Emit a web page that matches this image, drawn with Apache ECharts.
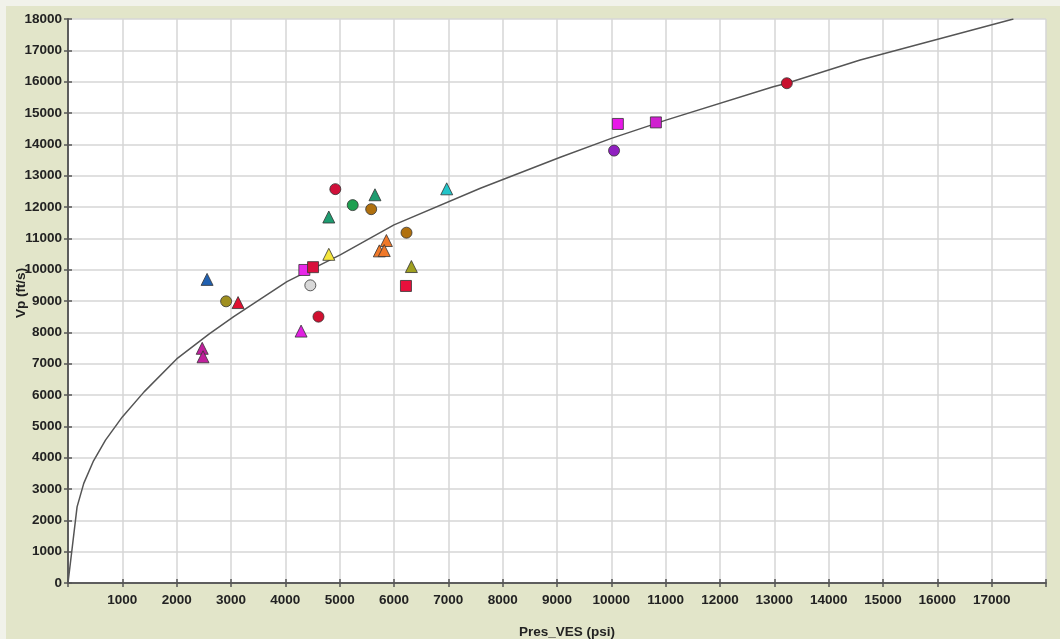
<!DOCTYPE html>
<html>
<head>
<meta charset="utf-8">
<title>Vp vs Pres_VES</title>
<script src="https://cdn.jsdelivr.net/npm/echarts@6/dist/echarts.min.js"></script>
<style>
  html, body { margin: 0; padding: 0; background: #e2e5c9; }
  #chart { width: 1060px; height: 639px; }
</style>
</head>
<body>
<div id="chart"></div>
<script>
// Well measurements: vertical effective stress (psi) and P-wave velocity (ft/s)
const wellVES = [4920, 5650, 6970, 5240, 5580, 4800, 6230, 5860, 5730, 5820, 4800, 4350, 4510, 6320,
                 4460, 6220, 2560, 2910, 3130, 4610, 4290, 2470, 2485, 10120, 10820, 10050, 13230];
const wellVp  = [12570, 12390, 12580, 12060, 11930, 11680, 11180, 10930, 10600, 10610, 10490, 9990, 10080, 10100,
                 9500, 9480, 9690, 8990, 8950, 8500, 8040, 7490, 7220, 14650, 14700, 13800, 15950];

// Marker style per well
const wellShape = ['circle', 'triangle', 'triangle', 'circle', 'circle', 'triangle', 'circle', 'triangle', 'triangle',
                   'triangle', 'triangle', 'rect', 'rect', 'triangle', 'circle', 'rect', 'triangle', 'circle',
                   'triangle', 'circle', 'triangle', 'triangle', 'triangle', 'rect', 'rect', 'circle', 'circle'];
const wellColor = ['#d0103a', '#1e9c70', '#22c4c8', '#1ea050', '#b0700e', '#1e9c70', '#b0700e', '#f07828', '#f07828',
                   '#f07828', '#f5e63c', '#e828e8', '#d8103c', '#a0a020', '#d8d8d8', '#e8103c', '#2060b0', '#a09020',
                   '#e01030', '#d01030', '#e020e0', '#c0209c', '#c0209c', '#e818e8', '#d020d0', '#9020c0', '#c8102e'];

// Velocity trend curve (VES, Vp)
const trendVES = [0, 167, 290, 470, 690, 1000, 1400, 2000, 2600, 3050, 4030, 5010, 6000, 7590,
                  9060, 10000, 11020, 12980, 13230, 14580, 17400];
const trendVp  = [0, 2430, 3180, 3900, 4560, 5300, 6100, 7150, 7950, 8500, 9620, 10470, 11430, 12600,
                  13590, 14190, 14780, 15840, 15950, 16690, 18000];

const chart = echarts.init(document.getElementById('chart'), null, { renderer: 'canvas' });

const labelFont = { fontFamily: '"Liberation Sans", Arial, sans-serif', fontWeight: 'bold', fontSize: 13.5, color: '#222' };
const axisLineStyle = { color: '#555', width: 1.5 };
const gridLineStyle = { color: '#d6d6d6', width: 1.5 };

const markerSize = { circle: 11, rect: 11, triangle: 12 };

const scatterData = wellVES.map((v, i) => ({
  value: [v, wellVp[i]],
  symbol: wellShape[i],
  symbolSize: markerSize[wellShape[i]],
  itemStyle: { color: wellColor[i], borderColor: '#333', borderWidth: 0.8, opacity: 1 }
}));

const option = {
  backgroundColor: '#e2e5c9',
  animation: false,
  graphic: [
    { type: 'rect', shape: { x: 0, y: 0, width: 1060, height: 6 }, style: { fill: '#f1f2ea' }, silent: true },
    { type: 'rect', shape: { x: 0, y: 0, width: 6, height: 639 }, style: { fill: '#f1f2ea' }, silent: true }
  ],
  grid: {
    left: 68, right: 14, top: 19, bottom: 56,
    containLabel: false, outerBoundsMode: 'none',
    show: true, backgroundColor: '#fff', borderWidth: 0
  },
  xAxis: [
    {
      type: 'value', min: 0, max: 18000, interval: 1000, position: 'bottom',
      name: 'Pres_VES (psi)', nameLocation: 'middle', nameGap: 42,
      nameTextStyle: Object.assign({}, labelFont, { padding: [0, 0, 0, 20] }),
      axisLine: { show: true, lineStyle: axisLineStyle },
      axisTick: { show: true, length: 4, lineStyle: axisLineStyle },
      axisLabel: Object.assign({}, labelFont, {
        margin: 10,
        formatter: v => (v === 0 || v === 18000) ? '' : String(v)
      }),
      splitLine: { show: true, lineStyle: gridLineStyle }
    },
    {
      type: 'value', min: 0, max: 18000, interval: 1000, position: 'top',
      axisLine: { show: true, lineStyle: axisLineStyle },
      axisTick: { show: true, length: 4, lineStyle: axisLineStyle },
      axisLabel: { show: false },
      splitLine: { show: false }
    }
  ],
  yAxis: [
    {
      type: 'value', min: 0, max: 18000, interval: 1000, position: 'left',
      name: 'Vp (ft/s)', nameLocation: 'middle', nameGap: 40, nameMoveOverlap: false,
      nameTextStyle: Object.assign({}, labelFont, { padding: [0, 0, 0, 16] }),
      axisLine: { show: true, lineStyle: axisLineStyle },
      axisTick: { show: true, length: 4, lineStyle: axisLineStyle },
      axisLabel: Object.assign({}, labelFont, { margin: 6, formatter: v => String(v) }),
      splitLine: { show: true, lineStyle: gridLineStyle }
    },
    {
      type: 'value', min: 0, max: 18000, interval: 1000, position: 'right',
      axisLine: { show: true, lineStyle: axisLineStyle },
      axisTick: { show: true, length: 4, lineStyle: axisLineStyle },
      axisLabel: { show: false },
      splitLine: { show: false }
    }
  ],
  series: [
    {
      type: 'line',
      data: trendVES.map((v, i) => [v, trendVp[i]]),
      showSymbol: false,
      smooth: false,
      lineStyle: { color: '#555', width: 1.5 },
      z: 2
    },
    {
      type: 'scatter',
      data: scatterData,
      z: 3
    }
  ]
};

chart.setOption(option);
</script>
</body>
</html>
